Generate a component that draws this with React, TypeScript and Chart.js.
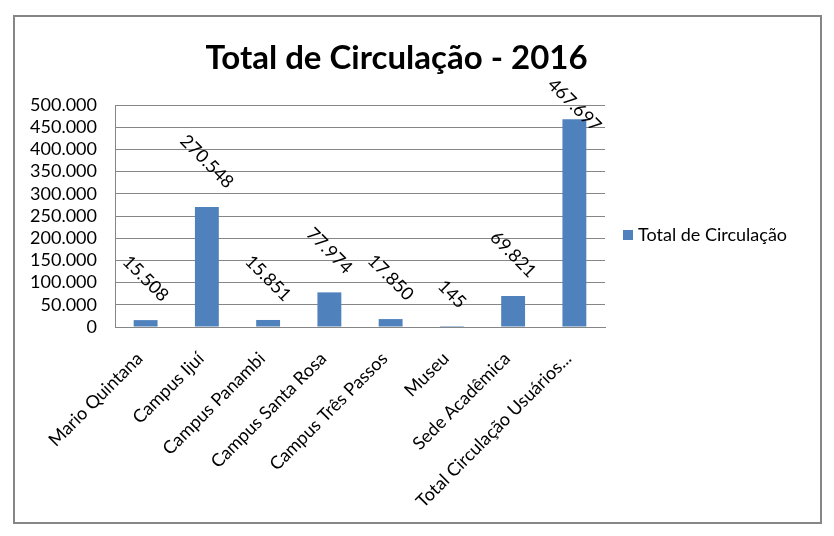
import React, { useEffect, useRef } from 'react';
import { Chart, registerables } from 'chart.js';

Chart.register(...registerables);

const categories = [
  'Mario Quintana',
  'Campus Ijuí',
  'Campus Panambi',
  'Campus Santa Rosa',
  'Campus Três Passos',
  'Museu',
  'Sede Acadêmica',
  'Total Circulação Usuários...',
];
const seriesName = 'Total de Circulação';
const values = [15508, 270548, 15851, 77974, 17850, 145, 69821, 467697];
const chartTitle = 'Total de Circulação - 2016';
const yMin = 0;
const yMax = 500000;
const yStep = 50000;

const FONT = 'Lato, "Open Sans", sans-serif';
const BAR_COLOR = '#4F81BD';
const GRID_COLOR = '#868686';

function fmt(n: number): string {
  return Math.round(n).toString().replace(/\B(?=(\d{3})+(?!\d))/g, '.');
}

const extrasPlugin = {
  id: 'excelExtras',
  afterDatasetsDraw(chart: any) {
    const ctx = chart.ctx;
    const area = chart.chartArea;
    const meta = chart.getDatasetMeta(0);
    ctx.save();
    ctx.font = `18px ${FONT}`;
    ctx.fillStyle = '#000';
    ctx.textAlign = 'center';
    ctx.textBaseline = 'middle';
    meta.data.forEach((bar: any, i: number) => {
      const txt = fmt(values[i]);
      const w = ctx.measureText(txt).width;
      const bh = (w + 13) * Math.SQRT1_2;
      let cy = bar.y - bh / 2 - 17;
      const minCy = area.top - 28 + bh / 2;
      if (cy < minCy) cy = minCy;
      ctx.save();
      ctx.translate(bar.x, cy);
      ctx.rotate(Math.PI / 4);
      ctx.fillText(txt, 0, 0);
      ctx.restore();
    });
    ctx.restore();
  },
  afterDraw(chart: any) {
    const ctx = chart.ctx;
    const area = chart.chartArea;
    ctx.save();
    // title
    ctx.font = `bold 33px ${FONT}`;
    ctx.fillStyle = '#000';
    ctx.textAlign = 'center';
    ctx.textBaseline = 'alphabetic';
    ctx.fillText(chartTitle, chart.width / 2 - 21, area.top - 36);
    // legend
    const ly = (area.top + area.bottom) / 2 + 19;
    const lx = area.right + 18;
    ctx.fillStyle = BAR_COLOR;
    ctx.fillRect(lx, ly - 5, 10, 10);
    ctx.fillStyle = '#000';
    ctx.font = `18px ${FONT}`;
    ctx.textAlign = 'left';
    ctx.textBaseline = 'middle';
    ctx.fillText(seriesName, lx + 15, ly);
    ctx.restore();
  },
};

export default function App() {
  const ref = useRef<HTMLCanvasElement | null>(null);
  useEffect(() => {
    if (!ref.current) return;
    const chart = new Chart(ref.current, {
      type: 'bar',
      data: {
        labels: categories,
        datasets: [
          {
            label: seriesName,
            data: values,
            backgroundColor: BAR_COLOR,
            borderWidth: 0,
            categoryPercentage: 1,
            barPercentage: 0.39,
          },
        ],
      },
      options: {
        responsive: false,
        animation: false,
        layout: { padding: { top: 88, right: 215, bottom: 0, left: 0 } },
        plugins: {
          legend: { display: false },
          title: { display: false },
          tooltip: { enabled: false },
        },
        scales: {
          x: {
            grid: { display: false, drawTicks: false },
            border: { display: true, color: GRID_COLOR },
            ticks: {
              color: '#000',
              font: { family: FONT, size: 18 },
              minRotation: 45,
              maxRotation: 45,
              autoSkip: false,
              padding: 21,
              labelOffset: -6,
            },
            afterFit: (scale: any) => {
              scale.height = 195;
            },
          },
          y: {
            min: yMin,
            max: yMax,
            grid: { color: GRID_COLOR, drawTicks: false },
            border: { display: true, color: GRID_COLOR },
            ticks: {
              stepSize: yStep,
              autoSkip: false,
              color: '#000',
              font: { family: FONT, size: 18 },
              padding: 18,
              callback: (v: any) => fmt(Number(v)),
            },
            afterFit: (scale: any) => {
              scale.width = 100;
            },
          },
        },
      },
      plugins: [extrasPlugin],
    });
    return () => chart.destroy();
  }, []);

  return (
    <div
      style={{
        position: 'absolute',
        left: 13,
        top: 15,
        width: 809,
        height: 509,
        boxSizing: 'border-box',
        border: '2px solid #868686',
        background: '#fff',
      }}
    >
      <canvas ref={ref} width={805} height={505} style={{ display: 'block' }} />
    </div>
  );
}
